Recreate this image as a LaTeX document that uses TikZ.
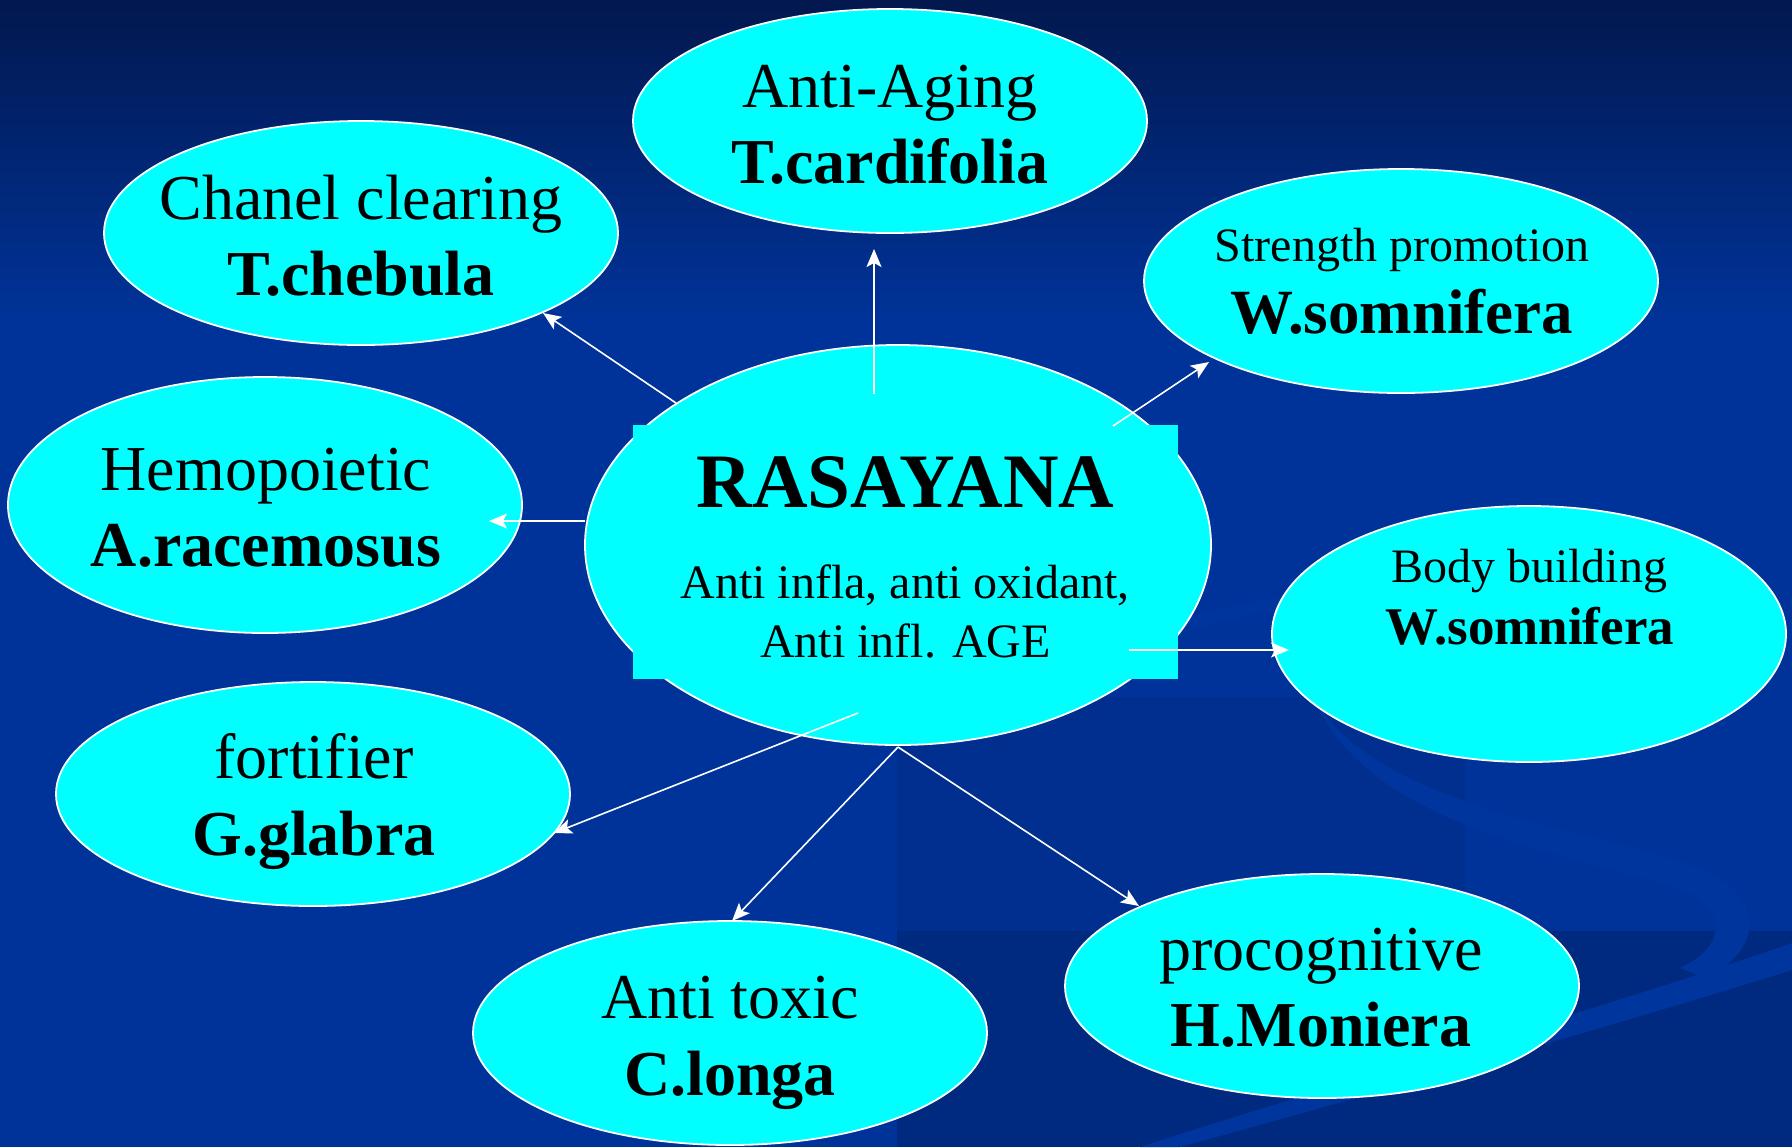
\documentclass[tikz,border=0pt]{standalone}
\usepackage{fontspec}
\setmainfont{Liberation Serif}
\usetikzlibrary{arrows.meta,shapes.geometric}
\definecolor{bgblue}{RGB}{0,51,153}
\definecolor{bgtop}{RGB}{2,24,78}
\definecolor{bgdark}{RGB}{0,42,128}
\definecolor{bgmid}{RGB}{0,47,143}
\definecolor{swooshcol}{RGB}{0,53,158}
\definecolor{nodecyan}{RGB}{0,255,255}
\begin{document}
\begin{tikzpicture}[x=0.5pt,y=-0.5pt,
  bubble/.style={ellipse, draw=white, line width=0.9pt, fill=nodecyan, inner sep=0pt,
                 minimum width=257pt, minimum height=112pt},
  tallbubble/.style={bubble, minimum height=128pt},
  hub/.style={bubble, minimum width=313pt, minimum height=200pt},
  hubbox/.style={rectangle, fill=nodecyan, draw=none, inner sep=0pt,
                 minimum width=272.5pt, minimum height=127pt},
  lbl/.style={anchor=base, inner sep=0pt, text=black, font=\fontsize{32}{38}\selectfont},
  lblb/.style={lbl, font=\fontsize{32}{38}\selectfont\bfseries},
  lblsmall/.style={lbl, font=\fontsize{24}{29}\selectfont},
  link/.style={draw=white, line width=0.8pt, -{Stealth[length=9pt,width=7.5pt,inset=2pt]}}
]
\useasboundingbox (0,0) rectangle (1792,1147);
% background
\fill[bgblue] (0,0) rectangle (1792,1147);
\shade[top color=bgtop, bottom color=bgblue] (0,0) rectangle (1792,320);
\fill[bgmid] (897,697) rectangle (1465,931);
\fill[bgdark] (897,931) rectangle (1792,1147);
% faint decorative ribbons
\fill[swooshcol] (1120,640) .. controls (1180,615) and (1250,600) .. (1320,592)
  -- (1320,604) .. controls (1250,612) and (1190,628) .. (1130,650) -- cycle;
\fill[swooshcol] (1315,700) .. controls (1380,810) and (1600,830) .. (1700,868)
  .. controls (1765,895) and (1765,950) .. (1705,978)
  -- (1680,968) .. controls (1730,945) and (1725,905) .. (1680,890)
  .. controls (1580,855) and (1370,830) .. (1315,700) -- cycle;
\fill[swooshcol] (1792,943) -- (1792,970) .. controls (1600,1030) and (1350,1100) .. (1180,1147)
  -- (1140,1147) .. controls (1330,1085) and (1600,1010) .. (1792,943) -- cycle;

% ellipses
\node[bubble] (aging) at (890,121) {};
\node[bubble] (chanel) at (361,233) {};
\node[bubble] (strength) at (1401,281) {};
\node[tallbubble] (hemo) at (265,505) {};
\node[tallbubble] (body) at (1529,634) {};
\node[bubble] (fort) at (313,794) {};
\node[bubble] (toxic) at (730,1033) {};
\node[bubble] (procog) at (1322,986) {};
\node[hub] (hub) at (898,545) {};
\node[hubbox] (hubbox) at (905.5,552) {};

% texts
\node[lbl]  (agingA) at (890,107) {Anti-Aging};
\node[lblb] (agingB) at (890,183) {T.cardifolia};
\node[lbl]  (chanelA) at (361,219) {Chanel clearing};
\node[lblb] (chanelB) at (361,295) {T.chebula};
\node[lblsmall] (strengthA) at (1402,261) {Strength promotion};
\node[lbl, font=\fontsize{31.5}{38}\selectfont\bfseries] (strengthB) at (1402,333) {W.somnifera};
\node[lbl]  (hemoA) at (266,490) {Hemopoietic};
\node[lblb] (hemoB) at (266,566) {A.racemosus};
\node[lblsmall] (bodyA) at (1529,582) {Body building};
\node[lbl, font=\fontsize{26.5}{32}\selectfont\bfseries] (bodyB) at (1530,644) {W.somnifera};
\node[lbl]  (fortA) at (314,778) {fortifier};
\node[lblb] (fortB) at (314,855) {G.glabra};
\node[lbl]  (toxicA) at (730,1018) {Anti toxic};
\node[lblb] (toxicB) at (730,1095) {C.longa};
\node[lbl]  (procogA) at (1321,970) {procognitive};
\node[lblb] (procogB) at (1321,1046) {H.Moniera};
\node[lbl, font=\fontsize{38.5}{46}\selectfont\bfseries] (hubA) at (905.5,507) {RASAYANA};
\node[lblsmall] (hubB) at (905,598) {Anti infla, anti oxidant,};
\node[lblsmall] (hubC) at (905.5,657) {Anti infl. AGE};

% connector ends
\coordinate (sAging) at (874,394);
\coordinate (tAging) at (874,249);
\coordinate (sChanel) at (676,403);
\coordinate (tChanel) at (543,313);
\coordinate (sStrength) at (1113,426);
\coordinate (tStrength) at (1209,362);
\coordinate (sHemo) at (585,521);
\coordinate (tHemo) at (489,521);
\coordinate (sBody) at (1129,650);
\coordinate (tBody) at (1289,650);
\coordinate (sFort) at (858,713);
\coordinate (tFort) at (554,833);
\coordinate (sBottom) at (898,747);
\coordinate (tToxic) at (732,921);
\coordinate (tProcog) at (1139,906);

\draw[link] (sAging) -- (tAging);
\draw[link] (sChanel) -- (tChanel);
\draw[link] (sStrength) -- (tStrength);
\draw[link] (sHemo) -- (tHemo);
\draw[link] (sBody) -- (tBody);
\draw[link] (sFort) -- (tFort);
\draw[link] (sBottom) -- (tToxic);
\draw[link] (sBottom) -- (tProcog);
\end{tikzpicture}
\end{document}
